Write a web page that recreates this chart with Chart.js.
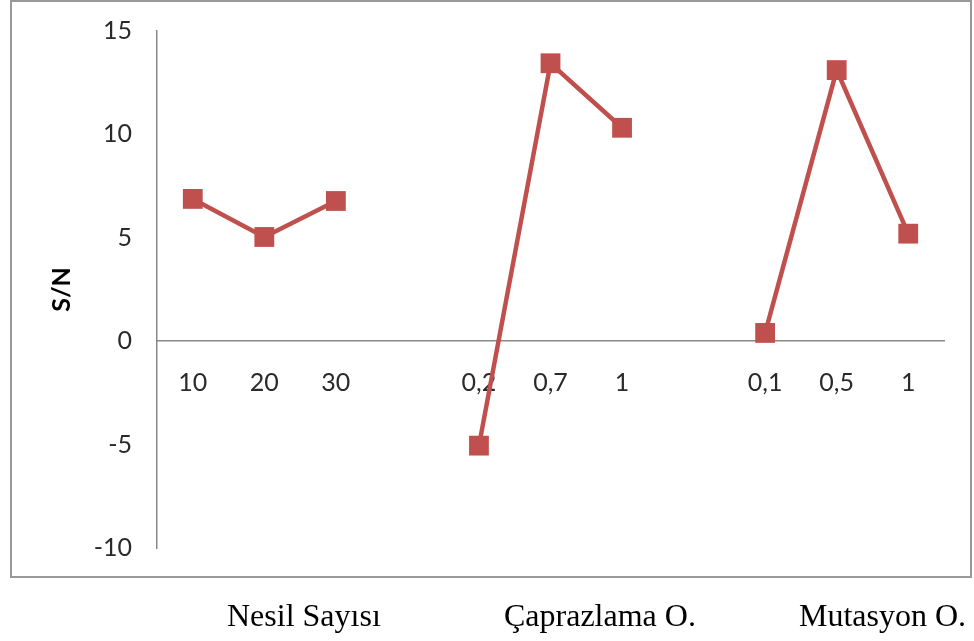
<!DOCTYPE html>
<html lang="tr">
<head>
<meta charset="utf-8">
<title>S/N</title>
<script src="https://cdn.jsdelivr.net/npm/chart.js@4.4.1/dist/chart.umd.min.js"></script>
<style>
  html, body { margin: 0; padding: 0; background: #ffffff; }
  #wrap { position: relative; width: 974px; height: 641px; overflow: hidden; }
  #frame {
    position: absolute; left: 10px; top: 0; width: 962px; height: 578px;
    box-sizing: border-box; border: 2px solid #999999; pointer-events: none;
  }
  #chart { position: absolute; left: 0; top: 0; }
  .group {
    position: absolute; top: 599px; line-height: 32px; white-space: nowrap;
    font-family: "Liberation Serif", "Times New Roman", serif; font-size: 32px; color: #000;
  }
</style>
</head>
<body>
<div id="wrap">
  <canvas id="chart" width="974" height="641"></canvas>
  <div id="frame"></div>
</div>
<script>
// Factor levels on the x axis; empty entries separate the three factors.
const categories = ['10', '20', '30', '', '0,2', '0,7', '1', '', '0,1', '0,5', '1'];
// Signal-to-noise ratio for each level (null = gap between factors).
const snValues = [6.88, 5.04, 6.78, null, -5.05, 13.44, 10.32, null, 0.40, 13.11, 5.20];
// Factor names printed under the chart.
const groupNames = ['Nesil Sayısı', 'Çaprazlama O.', 'Mutasyon O.'];
const groupLeft = [227, 504, 799];

const yMin = -10, yMax = 15, yStep = 5;
const red = '#C0504D';
const tickFont = { family: 'Lato, "Open Sans", sans-serif', size: 25 };

groupNames.forEach((name, i) => {
  const d = document.createElement('div');
  d.className = 'group';
  d.style.left = groupLeft[i] + 'px';
  d.textContent = name;
  document.getElementById('wrap').appendChild(d);
});

new Chart(document.getElementById('chart'), {
  type: 'line',
  data: {
    labels: categories,
    datasets: [{
      label: 'S/N',
      data: snValues,
      borderColor: red,
      backgroundColor: red,
      borderWidth: 4.5,
      pointStyle: 'rect',
      pointRadius: 14,
      pointHoverRadius: 14,
      pointBorderWidth: 0,
      pointBackgroundColor: red,
      spanGaps: false,
      tension: 0
    }]
  },
  options: {
    responsive: false,
    animation: false,
    layout: { padding: { left: 0, right: 30, top: 31, bottom: 93 } },
    plugins: { legend: { display: false }, tooltip: { enabled: false } },
    scales: {
      x: {
        type: 'category',
        position: { y: 0 },
        offset: true,
        grid: { display: false, drawTicks: false },
        border: { display: true, color: '#888888', width: 1.5 },
        ticks: { color: '#2a2a2a', font: tickFont, padding: 27, maxRotation: 0, autoSkip: false }
      },
      y: {
        min: yMin,
        max: yMax,
        grid: { display: false, drawTicks: false },
        border: { display: true, color: '#888888', width: 1.5 },
        ticks: { stepSize: yStep, color: '#2a2a2a', font: tickFont, padding: 25 },
        title: {
          display: true,
          text: 'S/N',
          color: '#000000',
          font: { family: 'Lato, "Open Sans", sans-serif', size: 25, weight: 'bold' },
          padding: { top: 47, bottom: 0 }
        },
        // fixed axis width; the plot edges come from the layout padding alone
        afterFit: (scale) => {
          scale.width = 157;
          scale.paddingTop = 0;
          scale.paddingBottom = 0;
        }
      }
    }
  }
});
</script>
</body>
</html>
